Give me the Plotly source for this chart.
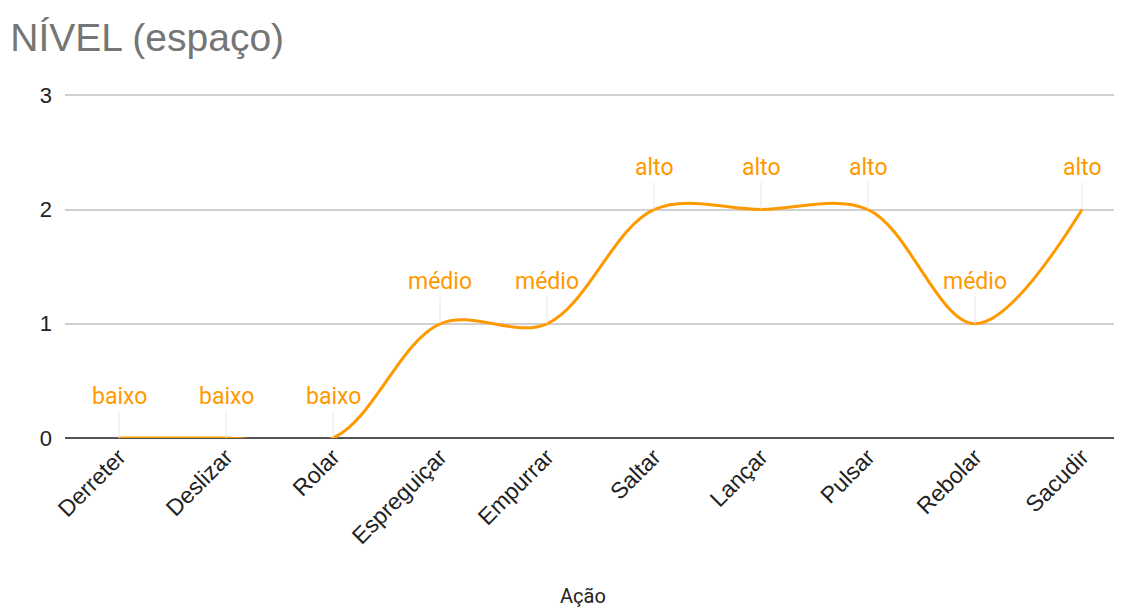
import plotly.graph_objects as go

categories = ["Derreter", "Deslizar", "Rolar", "Espreguiçar", "Empurrar",
              "Saltar", "Lançar", "Pulsar", "Rebolar", "Sacudir"]
values = [0, 0, 0, 1, 1, 2, 2, 2, 1, 2]
point_labels = ["baixo", "baixo", "baixo", "médio", "médio",
                "alto", "alto", "alto", "médio", "alto"]
y_ticks = [0, 1, 2, 3]

ORANGE = "#ff9900"

fig = go.Figure()
fig.add_trace(go.Scatter(
    x=categories, y=values, mode="lines",
    line=dict(color=ORANGE, width=3, shape="spline", smoothing=1.0),
    hoverinfo="x+y", showlegend=False,
))

for c, v, t in zip(categories, values, point_labels):
    fig.add_annotation(
        x=c, y=v, text=t, showarrow=True, arrowhead=0, arrowwidth=1,
        arrowcolor="#e6e6e6", ax=0, ay=-42, standoff=0,
        font=dict(family="Roboto, Arial, sans-serif", size=23, color=ORANGE),
    )

fig.add_annotation(
    text="Ação", xref="paper", yref="paper", x=0.492, y=-0.458,
    xanchor="center", yanchor="middle", showarrow=False,
    font=dict(family="Roboto, Arial, sans-serif", size=20, color="#222222"),
)

fig.update_layout(
    width=1114, height=604,
    margin=dict(l=57, r=4, t=85, b=174),
    paper_bgcolor="white", plot_bgcolor="white",
    title=dict(text="NÍVEL (espaço)", x=0.002, xanchor="left", y=0.952, yanchor="middle",
               font=dict(family="Arial, Liberation Sans, sans-serif", size=39, color="#757575")),
    xaxis=dict(
        type="category", range=[-0.505, 9.336],
        tickangle=-45, showgrid=False, zeroline=False, showline=False,
        ticks="", tickfont=dict(family="Arial, Liberation Sans, sans-serif", size=23, color="#222222"),
    ),
    yaxis=dict(
        range=[0, 3.02], tickvals=y_ticks, showgrid=True, gridcolor="#d0d0d0", gridwidth=1.5,
        zeroline=True, zerolinecolor="#555555", zerolinewidth=2,
        ticks="", ticklabelstandoff=12,
        tickfont=dict(family="Arial, Liberation Sans, sans-serif", size=22, color="#222222"),
    ),
)

fig.write_html("out.html")
